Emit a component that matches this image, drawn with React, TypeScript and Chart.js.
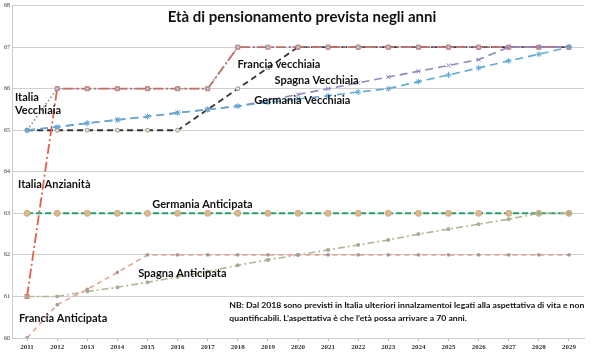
import React, { useEffect, useRef } from "react";
import { Chart, registerables } from "chart.js";

Chart.register(...registerables);

const years = ["2011","2012","2013","2014","2015","2016","2017","2018","2019","2020","2021","2022","2023","2024","2025","2026","2027","2028","2029"];

const italiaVecchiaia = [65, 66, 66, 66, 66, 66, 66, 67, 67, 67, 67, 67, 67, 67, 67, 67, 67, 67, 67];
const italiaAnzianita = [61, 66, 66, 66, 66, 66, 66, 67, 67, 67, 67, 67, 67, 67, 67, 67, 67, 67, 67];
const franciaVecchiaia = [65, 65, 65, 65, 65, 65, 65.5, 66, 66.5, 67, 67, 67, 67, 67, 67, 67, 67, 67, 67];
const spagnaVecchiaia = [65, 65.08, 65.17, 65.25, 65.33, 65.42, 65.5, 65.58, 65.72, 65.86, 66, 66.14, 66.28, 66.42, 66.56, 66.7, 67, 67, 67];
const germaniaVecchiaia = [65, 65.08, 65.17, 65.25, 65.33, 65.42, 65.5, 65.58, 65.67, 65.75, 65.83, 65.92, 66, 66.17, 66.33, 66.5, 66.67, 66.83, 67];
const germaniaAnticipata = [63, 63, 63, 63, 63, 63, 63, 63, 63, 63, 63, 63, 63, 63, 63, 63, 63, 63, 63];
const spagnaAnticipata = [61, 61, 61.12, 61.22, 61.34, 61.47, 61.6, 61.75, 61.88, 62, 62.12, 62.24, 62.36, 62.5, 62.62, 62.74, 62.86, 63, 63];
const franciaAnticipata = [60, 60.8, 61.17, 61.58, 62, 62, 62, 62, 62, 62, 62, 62, 62, 62, 62, 62, 62, 62, 62];

const titleText = "Età di pensionamento prevista negli anni";
const labelTexts = ["Italia", "Vecchiaia", "Italia Anzianità", "Francia vecchiaia", "Spagna Vecchiaia", "Germania Vecchiaia", "Germania Anticipata", "Spagna Anticipata", "Francia Anticipata"];
const labelX = [-0.4, -0.4, -0.3, 6.99, 8.22, 7.55, 4.16, 3.69, -0.27];
const labelY = [65.79, 65.48, 63.7, 66.59, 66.2, 65.72, 63.22, 61.56, 60.46];
const noteLines = [
  "NB: Dal 2018 sono previsti in Italia ulteriori innalzamentoi legati alla aspettativa di vita e non",
  "quantificabili. L\u2019aspettativa è che l\u2019età possa arrivare a 70 anni.",
];
const noteX = 6.72;
const noteY = [60.79, 60.48];

const textPlugin = {
  id: "textPlugin",
  afterDatasetsDraw(chart: any) {
    const ctx = chart.ctx;
    const xs = chart.scales.x;
    const ys = chart.scales.y;
    ctx.save();
    ctx.fillStyle = "#111";
    ctx.textBaseline = "middle";
    ctx.textAlign = "center";
    ctx.font = "bold 15px Lato";
    ctx.fillText(titleText, 302, ys.getPixelForValue(67.71));
    ctx.textAlign = "left";
    ctx.font = "bold 11px Lato";
    labelTexts.forEach((t, i) => {
      ctx.fillText(t, xs.getPixelForValue(labelX[i]), ys.getPixelForValue(labelY[i]));
    });
    ctx.font = "bold 8px Lato";
    noteLines.forEach((t, i) => {
      const w = ctx.measureText(noteLines[0]).width;
      const target = 355;
      ctx.save();
      const px = xs.getPixelForValue(noteX);
      const py = ys.getPixelForValue(noteY[i]);
      ctx.translate(px, py);
      ctx.scale(target / w, 1);
      ctx.fillText(t, 0, 0);
      ctx.restore();
    });
    ctx.restore();
  },
};

export default function App() {
  const ref = useRef<HTMLCanvasElement>(null);
  useEffect(() => {
    document.body.style.margin = "0";
    const mk = (label: string, data: number[], color: string, dash: number[], pStyle: any, pRadius: number, pFill: string, pBorder: string, width = 1.6) => ({
      label,
      data,
      borderColor: color,
      borderWidth: width,
      borderDash: dash,
      pointStyle: pStyle,
      pointRadius: pRadius,
      pointBackgroundColor: pFill,
      pointBorderColor: pBorder,
      pointBorderWidth: 1,
      fill: false,
      tension: 0,
    });
    const chart = new Chart(ref.current!, {
      type: "line",
      data: {
        labels: years,
        datasets: [
          mk("Francia Anticipata", franciaAnticipata, "#e3a596", [5, 4], "rect", 1.6, "#a09a98", "#a09a98"),
          mk("Spagna Anticipata", spagnaAnticipata, "#b2b596", [7, 3, 2, 3], "rect", 1.8, "#a7ab90", "#a7ab90"),
          mk("Germania Anticipata", germaniaAnticipata, "#22a268", [6, 3], "circle", 3, "#dcb88f", "#d3a97c", 2),
          mk("Germania Vecchiaia", germaniaVecchiaia, "#62a9d3", [8, 5], "star", 3, "#62a9d3", "#62a9d3"),
          mk("Spagna Vecchiaia", spagnaVecchiaia, "#8d88c2", [8, 5], "crossRot", 3, "#8d88c2", "#8d88c2"),
          mk("Italia Vecchiaia", italiaVecchiaia, "#7d8fae", [1.5, 2.5], "rect", 2, "#d0d0d0", "#9aa3b5"),
          mk("Italia Anzianità", italiaAnzianita, "#e4604a", [10, 3, 2, 3], "rect", 2.8, "#f3a494", "#e4604a", 1.8),
          mk("Francia vecchiaia", franciaVecchiaia, "#333333", [6, 4], "circle", 2, "#e8e2dc", "#a89888", 1.8),
        ],
      },
      options: {
        animation: false,
        responsive: false,
        maintainAspectRatio: false,
        layout: { padding: { top: 5, right: 16, left: 0, bottom: 0 } },
        plugins: { legend: { display: false }, title: { display: false }, tooltip: { enabled: false } },
        scales: {
          x: {
            offset: true,
            grid: { display: true, drawOnChartArea: false, tickLength: 3, color: "#bbb" },
            border: { color: "#ccc" },
            ticks: { font: { family: "Liberation Serif", size: 7, weight: "bold" }, color: "#333", maxRotation: 0, autoSkip: false, padding: 2 },
            afterFit: (s: any) => { s.height = 25; },
          },
          y: {
            min: 60,
            max: 68,
            ticks: { stepSize: 1, font: { family: "Liberation Serif", size: 6 }, color: "#333", padding: 2 },
            grid: { color: "#cfcfcf", drawTicks: false },
            border: { color: "#ccc" },
            afterFit: (s: any) => { s.width = 12; },
          },
        },
      },
      plugins: [textPlugin],
    } as any);
    return () => chart.destroy();
  }, []);
  return (
    <div style={{ position: "fixed", left: 0, top: 0, width: 600, height: 363, background: "#fff" }}>
      <canvas ref={ref} width={600} height={363} style={{ width: 600, height: 363 }} />
    </div>
  );
}
